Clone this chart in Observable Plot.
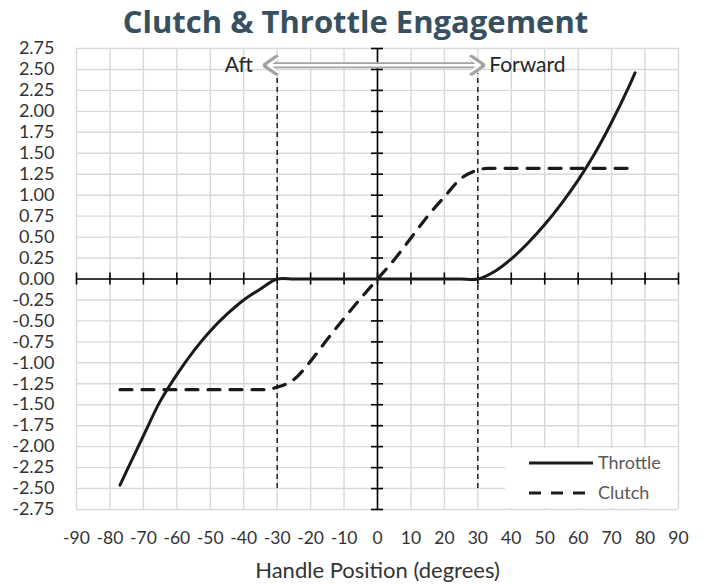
<!DOCTYPE html>
<html>
<head>
<meta charset="utf-8">
<script src="https://cdn.jsdelivr.net/npm/d3@7"></script>
<script src="https://cdn.jsdelivr.net/npm/@observablehq/plot@0.6"></script>
<style>
  body { margin: 0; background: #fff; }
  #wrap { position: relative; width: 706px; height: 584px; font-family: Lato, sans-serif; }
  #legend { position: absolute; left: 505px; top: 448px; width: 172px; height: 60px; background: #fff; }
</style>
</head>
<body>
<div id="wrap">
  <div id="chart"></div>
  <div id="legend"></div>
</div>
<script>
// ---- data ----
const titleText = "Clutch & Throttle Engagement";
const xAxisLabel = "Handle Position (degrees)";
const xTicks = [-90, -80, -70, -60, -50, -40, -30, -20, -10, 0, 10, 20, 30, 40, 50, 60, 70, 80, 90];
const yTicks = [-2.75, -2.5, -2.25, -2, -1.75, -1.5, -1.25, -1, -0.75, -0.5, -0.25, 0, 0.25, 0.5, 0.75, 1, 1.25, 1.5, 1.75, 2, 2.25, 2.5, 2.75];

const throttleX = [-77, -75, -70, -65, -60, -55, -50, -45, -40, -35, -30, -25, -20, -10, 0, 10, 20, 25, 30, 35, 40, 45, 50, 55, 60, 65, 70, 75, 77];
const throttleY = [-2.46, -2.29, -1.87, -1.46, -1.14, -0.86, -0.62, -0.42, -0.25, -0.12, 0, 0, 0, 0, 0, 0, 0, 0, 0, 0.09, 0.24, 0.43, 0.65, 0.90, 1.18, 1.50, 1.87, 2.28, 2.46];

const clutchX = [-77, -70, -60, -50, -40, -33, -30, -25, -20, -15, -10, -5, 0, 5, 10, 15, 20, 25, 30, 33, 40, 50, 60, 70, 77];
const clutchY = [-1.32, -1.32, -1.32, -1.32, -1.32, -1.32, -1.29, -1.20, -0.98, -0.72, -0.47, -0.23, 0, 0.23, 0.49, 0.75, 0.98, 1.20, 1.30, 1.32, 1.32, 1.32, 1.32, 1.32, 1.32];

const boundaryX = [-30, 30];
const boundaryY = [-2.5, 2.45];
const arrowEnds = [-33.4, 31.3];
const arrowY = 2.55;
const arrowLabels = ["Aft", "Forward"];
const seriesNames = ["Throttle", "Clutch"];

// ---- tables ----
const throttle = throttleX.map((x, i) => ({x, y: throttleY[i]}));
const clutch = clutchX.map((x, i) => ({x, y: clutchY[i]}));
const arrows = arrowEnds.map((x2, i) => ({x2, label: arrowLabels[i]}));

const font = "Lato, sans-serif";
const gridColor = "#d9d9d9";
const ink = "#1a1a1a";

const chart = Plot.plot({
  width: 706,
  height: 584,
  marginLeft: 76,
  marginRight: 28,
  marginTop: 48,
  marginBottom: 75,
  style: {fontFamily: font, fontSize: "18px", color: "#333", background: "#fff", overflow: "visible"},
  x: {domain: [-90, 90]},
  y: {domain: [-2.75, 2.75]},
  marks: [
    Plot.gridX(xTicks, {stroke: gridColor, strokeOpacity: 1, strokeWidth: 1.4}),
    Plot.gridY(yTicks, {stroke: gridColor, strokeOpacity: 1, strokeWidth: 1.4}),
    Plot.axisX(xTicks, {tickSize: 0, tickPadding: 22, tickFormat: d => String(d), fontSize: 17.5, fill: "#333", label: null}),
    Plot.axisY(yTicks, {tickSize: 0, tickPadding: 22, tickFormat: d => d.toFixed(2), fontSize: 18, fill: "#333", label: null}),
    // boundary dashed lines
    Plot.ruleX(boundaryX, {y1: boundaryY[0], y2: boundaryY[1], stroke: "#000", strokeWidth: 1.3, strokeDasharray: "5,4"}),
    // axes through the origin
    Plot.ruleY([0], {x1: -90, x2: 90, stroke: "#000", strokeWidth: 1.6}),
    Plot.ruleX([0], {y1: -2.75, y2: 2.75, stroke: "#000", strokeWidth: 1.6}),
    Plot.ruleX(xTicks, {x: d => d, y1: 0, y2: 0, insetTop: -6, insetBottom: -6, stroke: "#000", strokeWidth: 1.6}),
    Plot.ruleY(yTicks, {y: d => d, x1: 0, x2: 0, insetLeft: -6, insetRight: -6, stroke: "#000", strokeWidth: 1.6}),
    // series
    Plot.line(clutch, {x: "x", y: "y", curve: "monotone-x", stroke: ink, strokeWidth: 3.2, strokeDasharray: "12,10"}),
    Plot.line(throttle, {x: "x", y: "y", curve: "catmull-rom", stroke: ink, strokeWidth: 3}),
    // hollow double arrow
    Plot.arrow(arrows, {x1: 0, x2: "x2", y1: arrowY, y2: arrowY, stroke: "#a3a3a3", strokeWidth: 6, headLength: 3.2, headAngle: 70}),
    Plot.arrow(arrows, {x1: 0, x2: "x2", y1: arrowY, y2: arrowY, stroke: "#fff", strokeWidth: 2.4, headLength: 8, headAngle: 70, insetEnd: 2.5}),
    Plot.text(arrows.filter(d => d.x2 < 0), {x: "x2", y: arrowY, text: "label", textAnchor: "end", dx: -13, fontSize: 21, fill: "#262626"}),
    Plot.text(arrows.filter(d => d.x2 > 0), {x: "x2", y: arrowY, text: "label", textAnchor: "start", dx: 7, fontSize: 21, fill: "#262626"}),
    // title and axis label
    Plot.text([titleText], {frameAnchor: "top-left", lineAnchor: "middle", textAnchor: "middle", dx: 279, dy: -25, text: d => d, fontFamily: "'Open Sans', sans-serif", fontSize: 31, fontWeight: "bold", fill: "#37505f"}),
    Plot.text([xAxisLabel], {frameAnchor: "bottom", lineAnchor: "middle", dy: 61, text: d => d, fontSize: 22, fill: "#333"})
  ]
});
document.getElementById("chart").appendChild(chart);

// ---- legend ----
const legend = d3.select("#legend").append("svg").attr("width", 172).attr("height", 60);
const dashes = [null, "12,10"];
seriesNames.forEach((name, i) => {
  const yy = 15 + i * 30;
  legend.append("line").attr("x1", 24).attr("x2", 88).attr("y1", yy).attr("y2", yy)
    .attr("stroke", ink).attr("stroke-width", i ? 3.2 : 3).attr("stroke-dasharray", dashes[i]);
  legend.append("text").attr("x", 93).attr("y", yy).attr("dy", "0.35em")
    .attr("font-family", font).attr("font-size", 18).attr("fill", "#595959").text(name);
});
</script>
</body>
</html>
